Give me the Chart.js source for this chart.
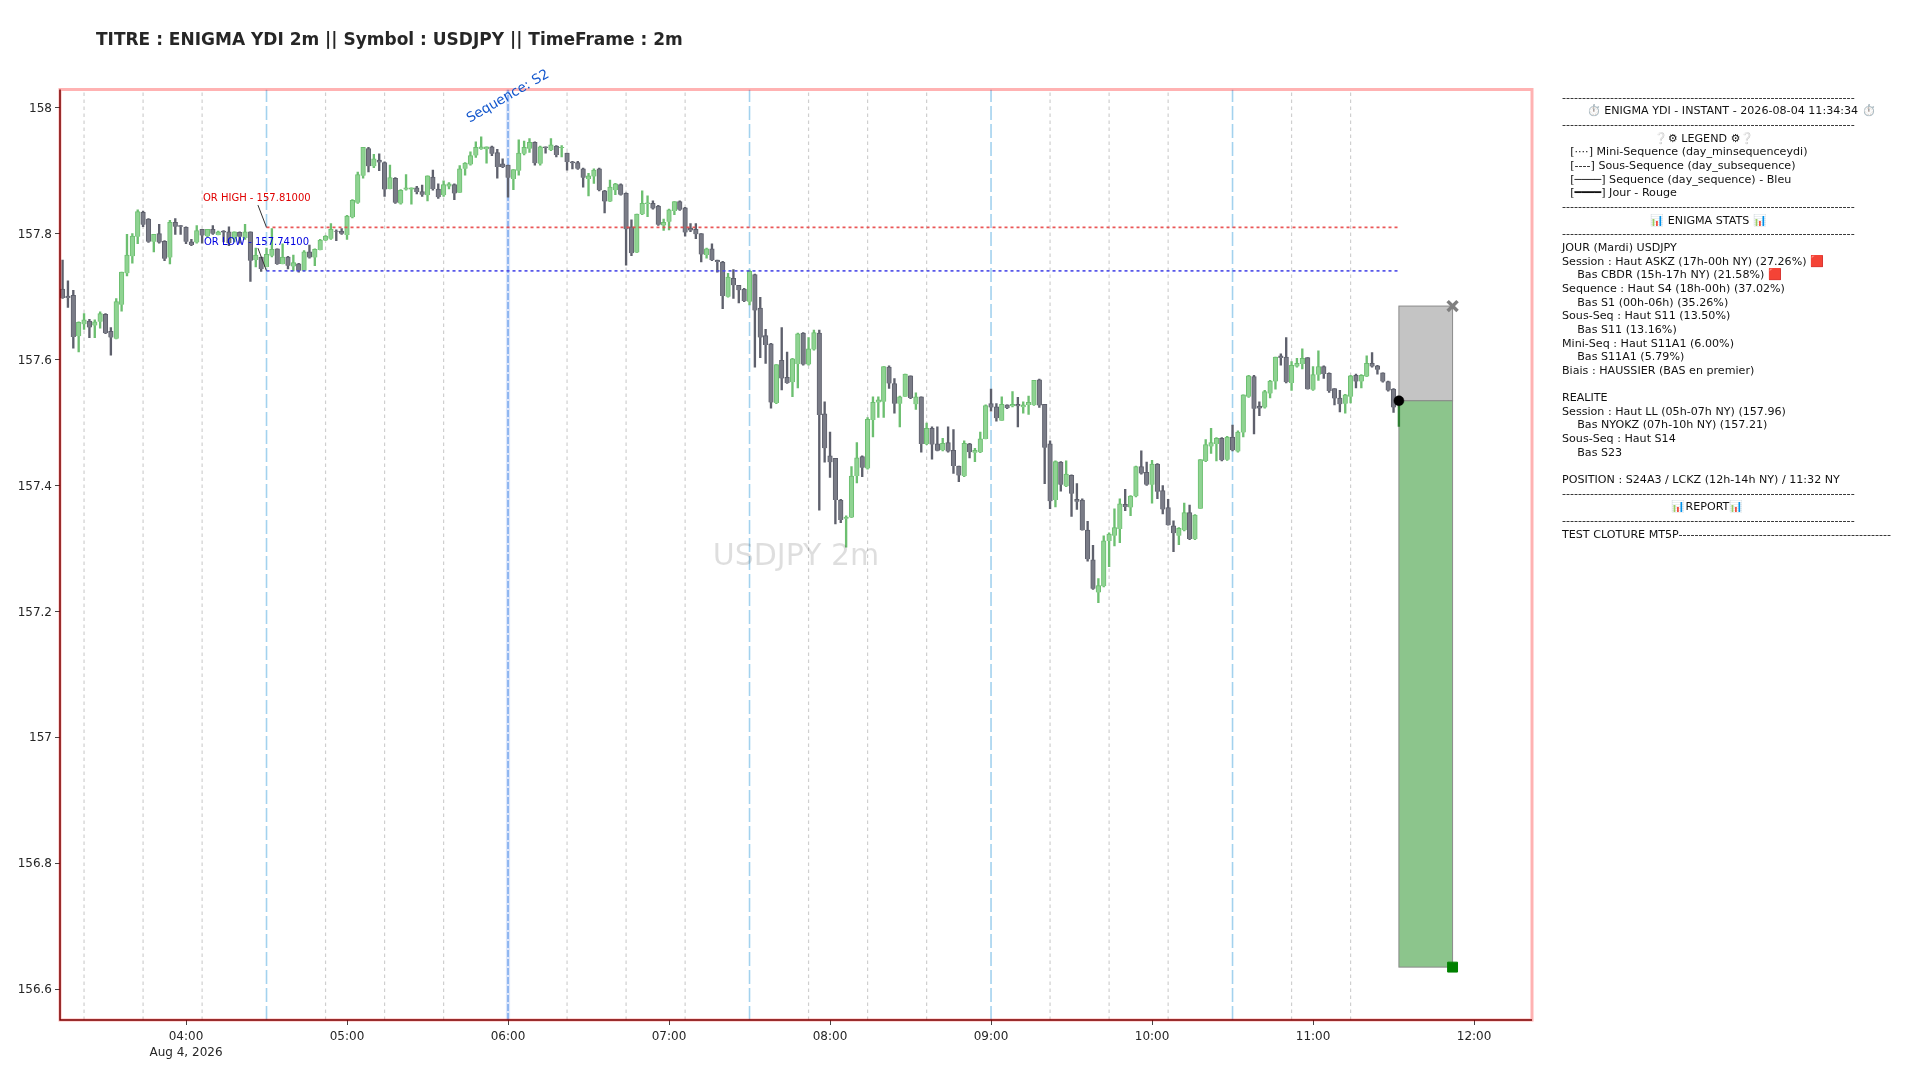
<!DOCTYPE html>
<html>
<head>
<meta charset="utf-8">
<script src="https://cdn.jsdelivr.net/npm/chart.js@4"></script>
<style>
body { margin: 0; background: #fff; width: 1920px; height: 1080px; overflow: hidden; position: relative; font-family: "DejaVu Sans", sans-serif; }
#titre { position: absolute; left: 96px; top: 28.5px; font-size: 17px; font-weight: bold; color: #262626; white-space: pre; }
#panneau { position: absolute; left: 1562px; top: 90.7px; font-size: 11.11px; line-height: 13.66px; color: #111; white-space: pre; }
canvas { position: absolute; left: 0; top: 0; }
</style>
</head>
<body>
<canvas id="myChart" width="1920" height="1080"></canvas>
<div id="titre">TITRE : ENIGMA YDI 2m || Symbol : USDJPY || TimeFrame : 2m</div>
<div id="panneau"></div>
<script>
// minutes depuis minuit, une bougie toutes les 2 minutes
const premiere_bougie = 194;
const pas_bougie = 2;

const opens = [
157.712,157.701,157.702,157.637,157.656,157.661,157.654,157.660,157.672,157.645,
157.633,157.687,157.737,157.764,157.795,157.834,157.823,157.787,157.800,157.788,
157.762,157.818,157.813,157.810,157.787,157.786,157.807,157.796,157.807,157.798,
157.804,157.803,157.792,157.802,157.793,157.803,157.758,157.763,157.747,157.765,
157.776,157.752,157.763,157.748,157.752,157.741,157.771,157.762,157.774,157.789,
157.792,157.804,157.804,157.798,157.826,157.849,157.892,157.935,157.907,157.917,
157.913,157.871,157.888,157.848,157.870,157.870,157.873,157.867,157.861,157.890,
157.871,157.861,157.875,157.878,157.865,157.903,157.910,157.924,157.935,157.934,
157.938,157.929,157.911,157.909,157.887,157.900,157.927,157.935,157.945,157.911,
157.938,157.933,157.939,157.936,157.928,157.914,157.913,157.903,157.887,157.891,
157.903,157.868,157.851,157.869,157.878,157.864,157.811,157.770,157.831,157.847,
157.848,157.844,157.813,157.819,157.836,157.851,157.841,157.809,157.807,157.800,
157.766,157.776,157.758,157.755,157.700,157.729,157.718,157.712,157.692,157.735,
157.682,157.638,157.625,157.531,157.599,157.572,157.564,157.593,157.642,157.592,
157.616,157.642,157.514,157.447,157.443,157.377,157.347,157.349,157.415,157.446,
157.427,157.504,157.532,157.533,157.588,157.562,157.530,157.541,157.574,157.529,
157.541,157.466,157.491,157.466,157.456,157.468,157.456,157.431,157.415,157.466,
157.452,157.453,157.474,157.530,157.525,157.503,157.528,157.526,157.529,157.525,
157.528,157.528,157.568,157.529,157.466,157.377,157.437,157.399,157.416,157.378,
157.377,157.329,157.282,157.230,157.240,157.312,157.320,157.331,157.370,157.365,
157.383,157.430,157.421,157.401,157.434,157.392,157.365,157.336,157.320,157.329,
157.357,157.315,157.363,157.439,157.462,157.466,157.475,157.441,157.477,157.454,
157.484,157.541,157.573,157.526,157.524,157.546,157.565,157.606,157.604,157.563,
157.589,157.593,157.603,157.552,157.576,157.589,157.578,157.554,157.539,157.530,
157.541,157.575,157.565,157.573,157.594,157.590,157.579,157.565,157.553,157.532];

const closes = [
157.698,157.698,157.636,157.659,157.663,157.651,157.660,157.673,157.642,157.635,
157.692,157.739,157.766,157.796,157.835,157.814,157.787,157.799,157.786,157.760,
157.818,157.811,157.811,157.787,157.782,157.805,157.797,157.807,157.800,157.803,
157.802,157.785,157.803,157.795,157.803,157.757,157.766,157.744,157.767,157.775,
157.752,157.763,157.749,157.754,157.741,157.771,157.762,157.775,157.790,157.796,
157.807,157.803,157.800,157.828,157.853,157.894,157.937,157.907,157.919,157.913,
157.870,157.889,157.849,157.869,157.873,157.873,157.866,157.862,157.892,157.871,
157.858,157.878,157.879,157.864,157.903,157.912,157.924,157.937,157.938,157.938,
157.927,157.906,157.906,157.889,157.902,157.928,157.937,157.945,157.912,157.938,
157.936,157.941,157.925,157.937,157.914,157.912,157.903,157.889,157.892,157.901,
157.869,157.851,157.874,157.879,157.862,157.807,157.769,157.831,157.848,157.849,
157.840,157.814,157.818,157.838,157.851,157.838,157.802,157.805,157.799,157.767,
157.776,157.758,157.755,157.701,157.731,157.718,157.710,157.693,157.740,157.678,
157.635,157.623,157.532,157.592,157.570,157.563,157.601,157.641,157.592,157.617,
157.643,157.512,157.459,157.437,157.377,157.345,157.350,157.415,157.444,157.428,
157.505,157.532,157.536,157.589,157.562,157.530,157.541,157.577,157.539,157.541,
157.466,157.491,157.465,157.455,157.467,157.454,157.431,157.416,157.467,157.453,
157.456,157.474,157.527,157.524,157.507,157.529,157.523,157.529,157.526,157.528,
157.532,157.567,157.527,157.460,157.375,157.438,157.401,157.418,157.387,157.374,
157.329,157.283,157.236,157.241,157.312,157.323,157.333,157.371,157.366,157.383,
157.430,157.419,157.401,157.434,157.390,157.362,157.337,157.324,157.332,157.357,
157.315,157.353,157.441,157.465,157.468,157.475,157.440,157.477,157.456,157.485,
157.544,157.574,157.522,157.523,157.549,157.566,157.604,157.603,157.564,157.591,
157.594,157.602,157.553,157.576,157.589,157.577,157.550,157.538,157.529,157.544,
157.574,157.565,157.575,157.594,157.589,157.584,157.565,157.551,157.524,157.536];

const highs = [
157.758,157.725,157.710,157.660,157.673,157.664,157.663,157.676,157.673,157.651,
157.697,157.739,157.799,157.800,157.838,157.836,157.824,157.799,157.815,157.789,
157.821,157.824,157.813,157.811,157.791,157.813,157.807,157.807,157.813,157.804,
157.805,157.811,157.803,157.803,157.815,157.803,157.777,157.763,157.777,157.808,
157.776,157.784,157.764,157.766,157.753,157.773,157.782,157.776,157.791,157.797,
157.816,157.806,157.808,157.829,157.854,157.898,157.937,157.937,157.926,157.927,
157.914,157.909,157.889,157.870,157.894,157.873,157.875,157.877,157.892,157.901,
157.879,157.884,157.881,157.879,157.908,157.913,157.930,157.946,157.954,157.938,
157.939,157.934,157.919,157.909,157.902,157.949,157.947,157.951,157.946,157.939,
157.938,157.951,157.940,157.940,157.928,157.915,157.915,157.904,157.896,157.903,
157.904,157.869,157.885,157.880,157.879,157.865,157.822,157.831,157.868,157.860,
157.852,157.845,157.823,157.839,157.851,157.852,157.842,157.816,157.816,157.800,
157.777,157.784,157.758,157.756,157.737,157.743,157.718,157.713,157.742,157.736,
157.699,157.648,157.626,157.592,157.651,157.612,157.602,157.642,157.643,157.635,
157.647,157.647,157.533,157.485,157.443,157.378,157.352,157.430,157.468,157.447,
157.508,157.541,157.541,157.589,157.590,157.570,157.542,157.577,157.574,157.547,
157.541,157.499,157.493,157.493,157.475,157.493,157.489,157.431,157.471,157.467,
157.459,157.485,157.528,157.553,157.530,157.541,157.528,157.549,157.540,157.533,
157.542,157.567,157.569,157.529,157.471,157.439,157.438,157.439,157.417,157.403,
157.379,157.343,157.305,157.252,157.320,157.325,157.363,157.379,157.394,157.384,
157.431,157.455,157.437,157.440,157.435,157.400,157.378,157.344,157.333,157.372,
157.369,157.354,157.441,157.473,157.491,157.476,157.476,157.478,157.496,157.487,
157.544,157.575,157.575,157.533,157.551,157.567,157.604,157.609,157.635,157.597,
157.602,157.617,157.603,157.589,157.614,157.590,157.579,157.554,157.551,157.545,
157.575,157.577,157.576,157.606,157.611,157.591,157.579,157.566,157.554,157.537];

const lows = [
157.697,157.683,157.618,157.612,157.648,157.635,157.635,157.650,157.641,157.607,
157.633,157.677,157.733,157.753,157.784,157.811,157.786,157.771,157.785,157.757,
157.752,157.799,157.799,157.784,157.781,157.785,157.785,157.795,157.799,157.798,
157.787,157.781,157.787,157.785,157.791,157.724,157.747,157.740,157.747,157.763,
157.751,157.752,157.744,157.741,157.739,157.741,157.761,157.749,157.774,157.789,
157.791,157.789,157.799,157.791,157.825,157.848,157.888,157.898,157.905,157.900,
157.859,157.871,157.848,157.847,157.869,157.847,157.863,157.859,157.852,157.869,
157.856,157.859,157.871,157.854,157.865,157.893,157.909,157.921,157.934,157.912,
157.924,157.888,157.905,157.858,157.870,157.893,157.925,157.929,157.909,157.909,
157.928,157.932,157.922,157.922,157.901,157.903,157.902,157.874,157.860,157.880,
157.868,157.833,157.851,157.862,157.861,157.750,157.765,157.770,157.830,157.827,
157.839,157.813,157.805,157.806,157.830,157.837,157.796,157.803,157.792,157.755,
157.761,157.757,157.739,157.681,157.699,157.697,157.690,157.692,157.687,157.588,
157.603,157.594,157.523,157.530,157.552,157.562,157.541,157.555,157.591,157.591,
157.615,157.361,157.437,157.413,157.339,157.341,157.302,157.349,157.404,157.414,
157.426,157.477,157.508,157.508,157.554,157.515,157.493,157.541,157.538,157.521,
157.453,157.465,157.442,157.455,157.455,157.453,157.419,157.406,157.414,157.444,
157.438,157.452,157.474,157.518,157.502,157.503,157.522,157.525,157.493,157.515,
157.513,157.527,157.524,157.403,157.363,157.366,157.391,157.398,157.351,157.362,
157.329,157.280,157.235,157.214,157.239,157.271,157.304,157.309,157.360,157.352,
157.382,157.418,157.400,157.372,157.379,157.355,157.337,157.295,157.306,157.328,
157.314,157.314,157.363,157.438,157.451,157.439,157.439,157.440,157.455,157.453,
157.477,157.540,157.482,157.511,157.523,157.539,157.553,157.591,157.563,157.551,
157.588,157.585,157.553,157.551,157.567,157.570,157.548,157.528,157.517,157.515,
157.531,157.555,157.555,157.573,157.588,157.577,157.564,157.550,157.516,157.494];

const ticks_x = [240, 300, 360, 420, 480, 540, 600, 660, 720];
const ticks_y = [156.6, 156.8, 157, 157.2, 157.4, 157.6, 157.8, 158];
const date_label = 'Aug 4, 2026';

const y_min = 156.551, y_max = 158.029;
const x_min = 193.04, x_max = 741.6;

// lignes verticales (minutes)
const mini_seq = [202, 224, 246, 292, 314, 336, 382, 404, 426, 472, 494, 516, 562, 584, 606, 652, 674];
const sous_seq = [270, 450, 540, 630];
const seq = [360];

const or_high = 157.81, or_low = 157.741;
const or_debut = 270, or_fin = 692;

// position ouverte : entree / stop / objectif
const pos_debut = 692, pos_fin = 712;
const pos_entree = 157.5346, pos_stop = 157.685, pos_tp = 156.635;

const panneau = [
'-------------------------------------------------------------------------',
'       ⏱️ ENIGMA YDI - INSTANT - 2026-08-04 11:34:34 ⏱️',
'-------------------------------------------------------------------------',
'                          ❔⚙ LEGEND ⚙❔',
'  \u200A[····] Mini-Sequence (day_minsequenceydi)',
'  \u200A[----] Sous-Sequence (day_subsequence)',
'  \u200A[────] Sequence (day_sequence) - Bleu',
'  \u200A[━━━━] Jour - Rouge',
'-------------------------------------------------------------------------',
'                         📊 ENIGMA STATS 📊',
'-------------------------------------------------------------------------',
'JOUR (Mardi) USDJPY',
'Session : Haut ASKZ (17h-00h NY) (27.26%) 🟥',
'    \u200ABas CBDR (15h-17h NY) (21.58%) 🟥',
'Sequence : Haut S4 (18h-00h) (37.02%)',
'    \u200ABas S1 (00h-06h) (35.26%)',
'Sous-Seq : Haut S11 (13.50%)',
'    \u200ABas S11 (13.16%)',
'Mini-Seq : Haut S11A1 (6.00%)',
'    \u200ABas S11A1 (5.79%)',
'Biais : HAUSSIER (BAS en premier)',
'',
'REALITE',
'Session : Haut LL (05h-07h NY) (157.96)',
'    \u200ABas NYOKZ (07h-10h NY) (157.21)',
'Sous-Seq : Haut S14',
'    \u200ABas S23',
'',
'POSITION : S24A3 / LCKZ (12h-14h NY) / 11:32 NY',
'-------------------------------------------------------------------------',
'                               📊REPORT📊',
'-------------------------------------------------------------------------',
'TEST CLOTURE MT5P-----------------------------------------------------'
];
document.getElementById('panneau').textContent = panneau.join('\n');

const temps = opens.map((o, i) => premiere_bougie + i * pas_bougie);
const VERT = '#6cbf70', VERT_CLAIR = '#8fd392';
const GRIS = '#5e606c', GRIS_CLAIR = '#7a7c87';
const derniere = opens.length - 1;

function couleur(i, a, b) {
    if (i === derniere) return '#2e7d32';
    return closes[i] >= opens[i] ? a : b;
}

function ligne_v(x, style) {
    return Object.assign({
        type: 'line',
        data: [{x: x, y: y_min}, {x: x, y: y_max}],
        pointRadius: 0,
        borderCapStyle: 'butt',
        order: 5
    }, style);
}

const datasets = [];

for (let x of mini_seq) {
    datasets.push(ligne_v(x, {borderColor: '#cfcfcf', borderWidth: 1.2, borderDash: [3.5, 3.5]}));
}
for (let x of sous_seq) {
    datasets.push(ligne_v(x, {borderColor: '#a3d2ee', borderWidth: 1.6, borderDash: [14, 4]}));
}
for (let x of seq) {
    datasets.push(ligne_v(x, {borderColor: 'rgba(110,150,240,0.24)', borderWidth: 4.2}));
    datasets.push(ligne_v(x, {borderColor: 'rgba(70,140,230,0.6)', borderWidth: 1.8, borderDash: [7, 2]}));
}

// meches puis corps des bougies
datasets.push({
    type: 'bar',
    grouped: false,
    data: temps.map((t, i) => ({x: t, y: [lows[i], highs[i]]})),
    barThickness: 1.7,
    backgroundColor: temps.map((t, i) => couleur(i, VERT, GRIS)),
    order: 3
});
datasets.push({
    type: 'bar',
    grouped: false,
    data: temps.map((t, i) => ({x: t, y: [Math.min(opens[i], closes[i]), Math.max(opens[i], closes[i])]})),
    barThickness: 4.6,
    backgroundColor: temps.map((t, i) => couleur(i, VERT_CLAIR, GRIS_CLAIR)),
    borderColor: temps.map((t, i) => couleur(i, VERT, GRIS)),
    borderWidth: 1,
    order: 2
});

// niveaux OR et leurs traits de rappel
datasets.push({type: 'line', data: [{x: or_debut, y: or_high}, {x: or_fin, y: or_high}], borderColor: 'rgba(232,70,70,0.9)', borderWidth: 1.8, borderDash: [3, 3], pointRadius: 0, order: 1});
datasets.push({type: 'line', data: [{x: or_debut, y: or_low}, {x: or_fin, y: or_low}], borderColor: 'rgba(70,70,232,0.9)', borderWidth: 1.8, borderDash: [3, 3], pointRadius: 0, order: 1});
datasets.push({type: 'line', data: [{x: 266.8, y: 157.8454}, {x: or_debut, y: or_high}], borderColor: '#333333', borderWidth: 1, pointRadius: 0, order: 1});
datasets.push({type: 'line', data: [{x: 266.8, y: 157.777}, {x: or_debut, y: or_low}], borderColor: '#333333', borderWidth: 1, pointRadius: 0, order: 1});

// marqueurs de la position
datasets.push({type: 'line', showLine: false, data: [{x: pos_debut, y: pos_entree}], pointStyle: 'circle', pointRadius: 5, pointBorderWidth: 0.5, pointBackgroundColor: '#000', pointBorderColor: '#000', order: 0});
datasets.push({type: 'line', showLine: false, data: [{x: pos_fin, y: pos_stop}], pointStyle: 'crossRot', pointRadius: 7, pointBorderColor: '#808080', pointBorderWidth: 3.5, order: 0});
datasets.push({type: 'line', showLine: false, data: [{x: pos_fin, y: pos_tp}], pointStyle: 'rect', pointRadius: 7, pointBackgroundColor: '#008000', pointBorderColor: '#008000', order: 0});

const decor = {
    id: 'decor',
    beforeDatasetsDraw(chart) {
        const c = chart.ctx, X = chart.scales.x, Y = chart.scales.y;
        const x0 = X.getPixelForValue(pos_debut), x1 = X.getPixelForValue(pos_fin);
        const yS = Y.getPixelForValue(pos_stop), yE = Y.getPixelForValue(pos_entree), yT = Y.getPixelForValue(pos_tp);
        c.save();
        c.lineWidth = 1;
        c.strokeStyle = '#8a8a8a';
        c.fillStyle = '#c4c4c4';
        c.fillRect(x0, yS, x1 - x0, yE - yS);
        c.strokeRect(x0, yS, x1 - x0, yE - yS);
        c.fillStyle = '#8cc58c';
        c.fillRect(x0, yE, x1 - x0, yT - yE);
        c.strokeRect(x0, yE, x1 - x0, yT - yE);
        c.restore();
    },
    afterDraw(chart) {
        const c = chart.ctx, X = chart.scales.x, Y = chart.scales.y, a = chart.chartArea;
        c.save();
        // cadre
        c.strokeStyle = 'rgba(255,0,0,0.3)';
        c.lineWidth = 3;
        c.strokeRect(a.left, a.top, a.right - a.left, a.bottom - a.top);
        c.strokeStyle = '#7a0000';
        c.lineWidth = 1.5;
        c.beginPath();
        c.moveTo(a.left, a.top);
        c.lineTo(a.left, a.bottom);
        c.lineTo(a.right, a.bottom);
        c.stroke();
        // filigrane
        c.font = '30px "DejaVu Sans"';
        c.fillStyle = 'rgba(0,0,0,0.13)';
        c.textAlign = 'center';
        c.textBaseline = 'middle';
        c.fillText('USDJPY 2m', (a.left + a.right) / 2, (a.top + a.bottom) / 2 + 2);
        // etiquettes
        c.textAlign = 'left';
        c.font = '10px "DejaVu Sans"';
        c.fillStyle = '#e00000';
        c.fillText('OR HIGH - 157.81000', X.getPixelForValue(246.3), Y.getPixelForValue(157.8565));
        c.fillStyle = '#0000e0';
        c.fillText('OR LOW - 157.74100', X.getPixelForValue(246.7), Y.getPixelForValue(157.7865));
        // sequence
        c.translate(X.getPixelForValue(360), Y.getPixelForValue(158.021) + 2);
        c.rotate(-30 * Math.PI / 180);
        c.textAlign = 'center';
        c.font = '13.5px "DejaVu Sans"';
        c.fillStyle = '#1155cc';
        c.fillText('Sequence: S2', 0, 0);
        c.restore();
    }
};

const ctx = document.getElementById('myChart');

new Chart(ctx, {
    data: {datasets: datasets},
    plugins: [decor],
    options: {
        responsive: false,
        animation: false,
        devicePixelRatio: 1,
        layout: {padding: {top: 89.5, right: 388, left: 0, bottom: 0}},
        plugins: {legend: {display: false}, tooltip: {enabled: false}},
        scales: {
            x: {
                type: 'linear',
                offset: false,
                min: x_min,
                max: x_max,
                afterBuildTicks: s => { s.ticks = ticks_x.map(v => ({value: v})); },
                afterFit: s => { s.height = 60; },
                border: {display: false},
                grid: {offset: false, drawOnChartArea: false, drawTicks: true, tickLength: 5, tickColor: '#444', tickWidth: 1},
                ticks: {
                    autoSkip: false,
                    maxRotation: 0,
                    color: '#262626',
                    padding: 4,
                    font: {family: 'DejaVu Sans', size: 12, lineHeight: 1.3},
                    callback: function (v) {
                        let h = String(Math.floor(v / 60)).padStart(2, '0');
                        let txt = h + ':00';
                        return v === ticks_x[0] ? [txt, date_label] : txt;
                    }
                }
            },
            y: {
                min: y_min,
                max: y_max,
                afterBuildTicks: s => { s.ticks = ticks_y.map(v => ({value: v})); },
                afterFit: s => { s.width = 60; },
                border: {display: false},
                grid: {offset: false, drawOnChartArea: false, drawTicks: true, tickLength: 5, tickColor: '#444', tickWidth: 1},
                ticks: {
                    autoSkip: false,
                    color: '#262626',
                    padding: 3,
                    labelOffset: 1,
                    font: {family: 'DejaVu Sans', size: 12},
                    callback: v => String(v)
                }
            }
        }
    }
});
</script>
</body>
</html>
